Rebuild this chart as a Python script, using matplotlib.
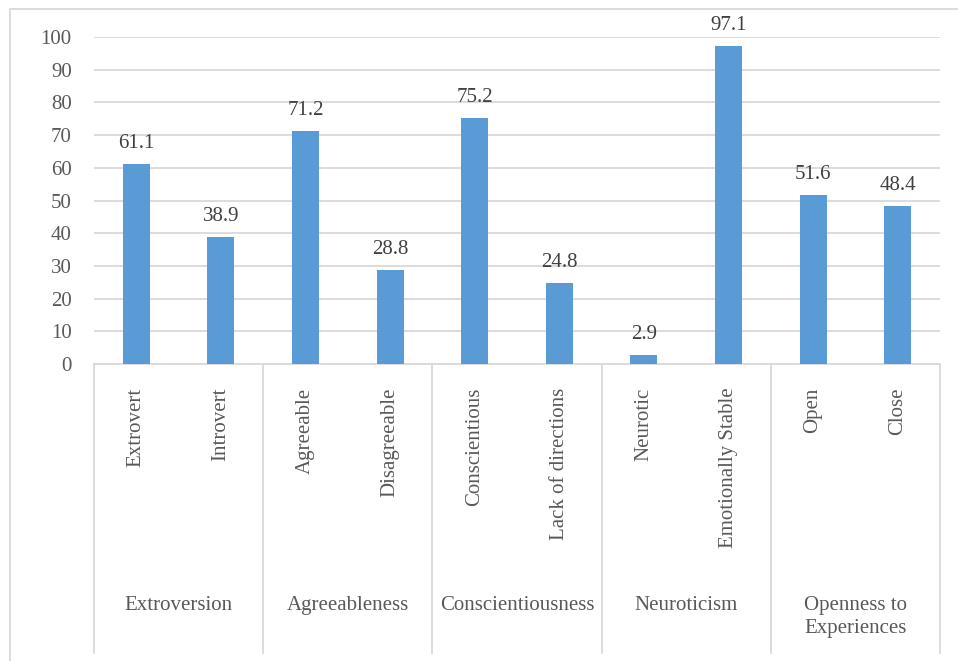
import matplotlib.pyplot as plt
from matplotlib.lines import Line2D
import matplotlib.transforms as mtransforms

plt.rcParams['font.family'] = ['Liberation Serif', 'DejaVu Serif']

# ---- data ----
groups = ['Extroversion', 'Agreeableness', 'Conscientiousness', 'Neuroticism',
          'Openness to\nExperiences']
traits = ['Extrovert', 'Introvert', 'Agreeable', 'Disagreeable', 'Conscientious',
          'Lack of directions', 'Neurotic', 'Emotionally Stable', 'Open', 'Close']
values = [61.1, 38.9, 71.2, 28.8, 75.2, 24.8, 2.9, 97.1, 51.6, 48.4]
yticks = [0, 10, 20, 30, 40, 50, 60, 70, 80, 90, 100]

bar_color = '#5b9bd5'
grid_color = '#d9d9d9'
tick_color = '#595959'
label_color = '#404040'

fig = plt.figure(figsize=(9.58, 6.61), dpi=100)
W, H = 958, 661
ax = fig.add_axes([94 / W, 1 - 364 / H, (940 - 94) / W, (364 - 37) / H])

# outer chart border (right and bottom edges run off the image)
fig.lines.append(Line2D([10 / W, 10 / W, 1.0], [0.0, 1 - 9 / H, 1 - 9 / H],
                        transform=fig.transFigure, color=grid_color, linewidth=1.3))

x = list(range(len(values)))
ax.bar(x, values, width=0.32, color=bar_color, zorder=3)

for xi, v in zip(x, values):
    ax.annotate('%g' % v, (xi, v), xytext=(0, 16), textcoords='offset pixels',
                ha='center', va='baseline', fontsize=15, color=label_color)

ax.set_xlim(-0.5, len(values) - 0.5)
ax.set_ylim(0, 100)
ax.set_yticks(yticks)
ax.set_xticks([])
ax.yaxis.grid(True, color=grid_color, linewidth=1.3, zorder=0)
ax.tick_params(axis='y', length=0, pad=16, labelsize=15, labelcolor=tick_color)
for s in ['top', 'right', 'left']:
    ax.spines[s].set_visible(False)
ax.spines['bottom'].set_color(grid_color)
ax.spines['bottom'].set_linewidth(1.3)

trans = mtransforms.blended_transform_factory(ax.transData, ax.transAxes)

# inner category labels (rotated)
for xi, t in zip(x, traits):
    ax.text(xi, -0.073, t, transform=trans, rotation=90, ha='center', va='top',
            fontsize=15, color=tick_color)

# group labels and dividers
for gi, g in enumerate(groups):
    ax.text(2 * gi + 0.5, -0.708, g, transform=trans, ha='center', va='top',
            fontsize=15, color=tick_color, linespacing=1.35)
for d in range(len(groups) + 1):
    ax.plot([2 * d - 0.5, 2 * d - 0.5], [0, -0.884], transform=trans,
            color=grid_color, linewidth=1.3, clip_on=False)

plt.savefig('out.png', dpi=100)
